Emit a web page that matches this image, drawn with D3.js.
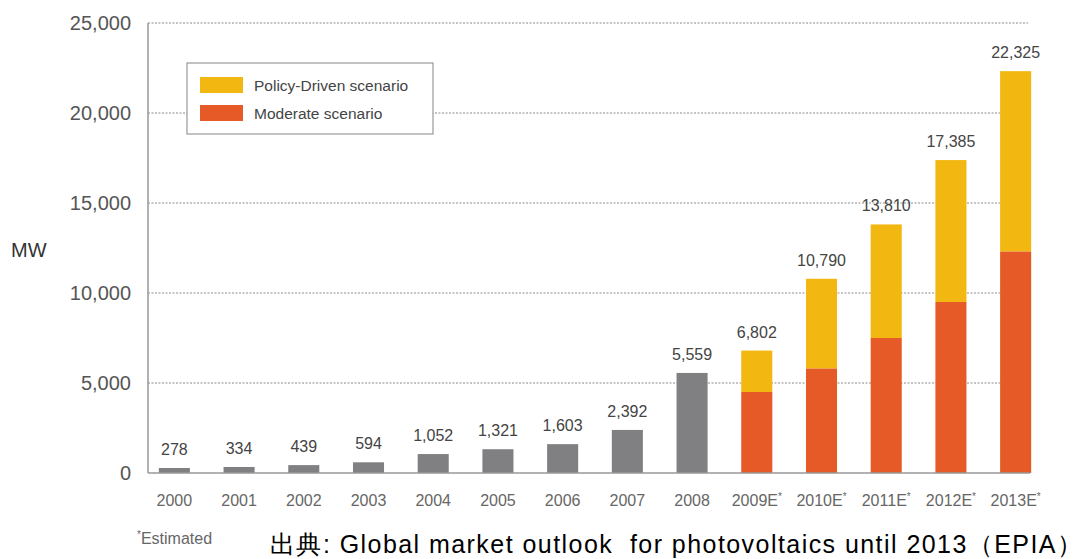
<!DOCTYPE html>
<html><head><meta charset="utf-8">
<script src="https://cdn.jsdelivr.net/npm/d3@7"></script>
<style>
body{margin:0;background:#fff;}
text{font-family:"Liberation Sans",Arial,sans-serif;}
</style></head><body>
<svg id="c" width="1088" height="559"></svg>
<script>
const categories = ["2000","2001","2002","2003","2004","2005","2006","2007","2008","2009E","2010E","2011E","2012E","2013E"];
const actualValues = [278,334,439,594,1052,1321,1603,2392,5559,null,null,null,null,null];
const moderateValues = [null,null,null,null,null,null,null,null,null,4500,5800,7500,9500,12300];
const totalValues = [null,null,null,null,null,null,null,null,null,6802,10790,13810,17385,22325];
const yTicks = [0,5000,10000,15000,20000,25000];
const legendLabels = ["Policy-Driven scenario","Moderate scenario"];

const colors = {grey:"#808083", policy:"#F2B811", moderate:"#E55A27"};
const svg = d3.select("#c");
const x = d3.scaleBand().domain(categories).range([142,1048]).paddingInner(0.52).paddingOuter(0.26);
const y = d3.scaleLinear().domain([0,25000]).range([473,23]);
const fmt = d3.format(",");

// gridlines
svg.append("g").selectAll("line").data(yTicks.filter(d=>d>0)).join("line")
  .attr("x1",148).attr("x2",1028).attr("y1",d=>y(d)).attr("y2",d=>y(d))
  .attr("stroke","#8a8a8a").attr("stroke-width",1).attr("stroke-dasharray","2,1.5");

// y axis
const ya = svg.append("g").attr("transform","translate(148,0)")
  .call(d3.axisLeft(y).tickValues(yTicks).tickSize(0).tickPadding(17).tickFormat(fmt));
ya.select(".domain").remove();
ya.selectAll("text").attr("font-size",20).attr("fill","#555");
svg.append("line").attr("x1",148).attr("x2",148).attr("y1",y(25000)).attr("y2",y(0)).attr("stroke","#999").attr("stroke-width",1.5);

// bars
const g = svg.append("g");
categories.forEach((c,i)=>{
  if(actualValues[i]!=null){
    g.append("rect").attr("x",x(c)).attr("width",x.bandwidth()).attr("y",y(actualValues[i])).attr("height",y(0)-y(actualValues[i])).attr("fill",colors.grey);
  } else {
    g.append("rect").attr("x",x(c)).attr("width",x.bandwidth()).attr("y",y(totalValues[i])).attr("height",y(moderateValues[i])-y(totalValues[i])).attr("fill",colors.policy);
    g.append("rect").attr("x",x(c)).attr("width",x.bandwidth()).attr("y",y(moderateValues[i])).attr("height",y(0)-y(moderateValues[i])).attr("fill",colors.moderate);
  }
});
// baseline
svg.append("line").attr("x1",148).attr("x2",1030).attr("y1",y(0)).attr("y2",y(0)).attr("stroke","#999").attr("stroke-width",1.5);

// value labels
categories.forEach((c,i)=>{
  const v = actualValues[i]!=null ? actualValues[i] : totalValues[i];
  svg.append("text").attr("x",x(c)+x.bandwidth()/2).attr("y",y(v)-13).attr("text-anchor","middle")
    .attr("font-size",16).attr("fill","#444").text(fmt(v));
});

// x labels
categories.forEach((c,i)=>{
  const t = svg.append("text").attr("x",x(c)+x.bandwidth()/2).attr("y",506).attr("text-anchor","middle")
    .attr("font-size",16).attr("fill","#666");
  t.append("tspan").text(c);
  if(c.endsWith("E")) t.append("tspan").attr("font-size",10).attr("dy",-6).text("*");
});

// MW label
svg.append("text").attr("x",11).attr("y",257).attr("font-size",20).attr("fill","#333").text("MW");

// legend
const lg = svg.append("g");
lg.append("rect").attr("x",187).attr("y",63).attr("width",246).attr("height",71).attr("fill","#fff").attr("stroke","#999").attr("stroke-width",1.2);
[colors.policy, colors.moderate].forEach((col,i)=>{
  lg.append("rect").attr("x",200).attr("y",77+i*28).attr("width",43).attr("height",16).attr("fill",col);
  lg.append("text").attr("x",254).attr("y",91+i*28).attr("font-size",15.5).attr("fill","#444").text(legendLabels[i]);
});

// footnotes
svg.append("text").attr("x",137).attr("y",544).attr("font-size",16).attr("fill","#666")
  .call(t=>{t.append("tspan").attr("font-size",10).attr("dy",-6).text("*");t.append("tspan").attr("dy",6).text("Estimated");});
svg.append("text").attr("x",270).attr("y",553).attr("font-size",25).attr("fill","#000")
  .attr("font-family","'Noto Sans CJK JP','Liberation Sans',sans-serif")
  .attr("textLength",812).attr("lengthAdjust","spacing")
  .text("出典: Global market outlook  for photovoltaics until 2013（EPIA）").style("white-space","pre");
</script>
</body></html>
